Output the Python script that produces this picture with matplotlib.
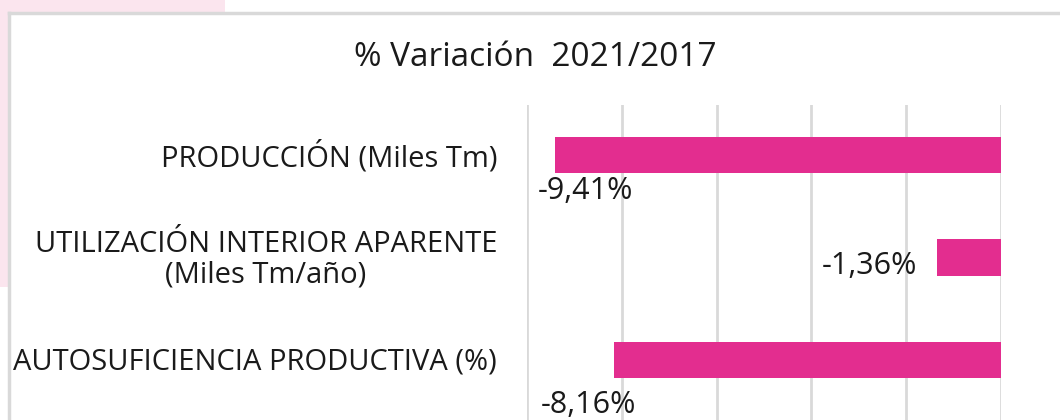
import matplotlib.pyplot as plt
from matplotlib.patches import Rectangle
from matplotlib.lines import Line2D

# data
categorias = ['PRODUCCIÓN (Miles Tm)',
              'UTILIZACIÓN INTERIOR APARENTE\n(Miles Tm/año)',
              'AUTOSUFICIENCIA PRODUCTIVA (%)']
variacion = [-9.41, -1.36, -8.16]
etiquetas = ['-9,41%', '-1,36%', '-8,16%']
titulo = '% Variación  2021/2017'

plt.rcParams['font.family'] = ['Open Sans', 'DejaVu Sans']
rosa = '#e32d8f'
txt = '#1a1a1a'

fig = plt.figure(figsize=(10.6, 4.2), dpi=100)
fig.patch.set_facecolor('white')

# slide background bits + chart frame
fig.patches.append(Rectangle((0, 1 - 12/420), 225/1060, 12/420, transform=fig.transFigure,
                             facecolor='#fbe5ee', edgecolor='none', zorder=0))
fig.patches.append(Rectangle((0, 1 - 287/420), 8/1060, 287/420, transform=fig.transFigure,
                             facecolor='#fbe5ee', edgecolor='none', zorder=0))
fig.lines.append(Line2D([9/1060, 9/1060], [0, 1 - 13/420], transform=fig.transFigure,
                        color='#d9d9d9', lw=2.5))
fig.lines.append(Line2D([9/1060, 1], [1 - 13/420, 1 - 13/420], transform=fig.transFigure,
                        color='#d9d9d9', lw=2.5))

ax = fig.add_axes([527/1060, 0, (1001-527)/1060, 0.75])
y = range(len(variacion))
ax.barh(y, variacion, height=0.36, color=rosa, zorder=3)
ax.set_xlim(-10, 0)
ax.set_ylim(2.585, -0.488)
ax.set_xticks([-10, -8, -6, -4, -2, 0])
ax.grid(axis='x', color='#d9d9d9', lw=2)
ax.tick_params(length=0, labelbottom=False, labelleft=False)
for s in ax.spines.values():
    s.set_visible(False)
ax.set_facecolor('none')

for i, cat in enumerate(categorias):
    ax.text(-0.063, i + 0.02, cat, transform=ax.get_yaxis_transform(), ha='right', va='center',
            multialignment='center', linespacing=1.05, fontsize=21, color=txt)

# data labels
ax.text(-8.76, 0.35, etiquetas[0], ha='center', va='center', fontsize=22, color=txt)
ax.text(-1.76, 1.08, etiquetas[1], ha='right', va='center', fontsize=22, color=txt)
ax.text(-8.71, 2.44, etiquetas[2], ha='center', va='center', fontsize=22, color=txt)

fig.text(535/1060, 1 - 57/420, titulo, ha='center', va='center', fontsize=24, color=txt)

fig.savefig('out.png', dpi=100)
